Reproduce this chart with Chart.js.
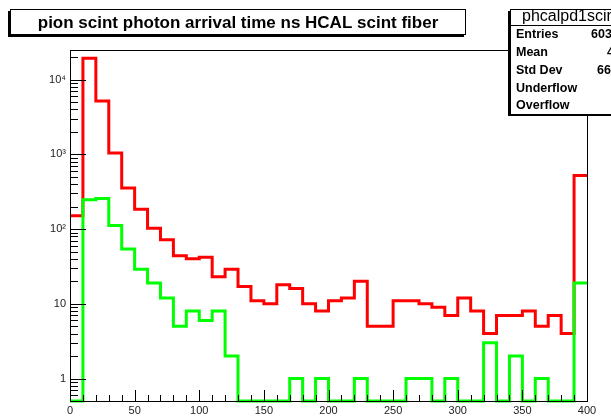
<!DOCTYPE html>
<html>
<head>
<meta charset="utf-8">
<script src="https://cdn.jsdelivr.net/npm/chart.js@4.4.0/dist/chart.umd.min.js"></script>
<style>
  html, body { margin: 0; padding: 0; background: #fff; }
  #wrap { width: 611px; height: 419px; position: relative; }
</style>
</head>
<body>
<div id="wrap"><canvas id="c" width="611" height="419"></canvas></div>
<script>
// bin lower edges (ns), width 10
const binLow = [0, 10, 20, 30, 40, 50, 60, 70, 80, 90, 100, 110, 120, 130, 140, 150, 160, 170, 180, 190,
  200, 210, 220, 230, 240, 250, 260, 270, 280, 290, 300, 310, 320, 330, 340, 350, 360, 370, 380, 390];
const binWidth = 10;

// red histogram (all photons)
const redCounts = [151, 19400, 5210, 1041, 354, 185, 103, 72, 44, 40, 42, 23, 29, 17, 11, 10, 18, 16, 10, 8,
  11, 12, 20, 5, 5, 11, 11, 10, 9, 7, 12, 8, 4, 7, 7, 8, 5, 7, 4, 523];

// green histogram
const greenCounts = [0, 247, 257, 112, 54, 29, 19, 12, 5, 8, 6, 8, 2, 0, 0, 0, 0, 1, 0, 1,
  0, 0, 1, 0, 0, 0, 1, 1, 0, 1, 0, 0, 3, 0, 2, 0, 1, 0, 0, 19];

const xTicks = [0, 50, 100, 150, 200, 250, 300, 350, 400];
const yTicks = [1, 10, 100, 1000, 10000];
const yTickLabels = ['1', '10', '10\u00b2', '10\u00b3', '10\u2074'];

const titleText = 'pion scint photon arrival time ns HCAL scint fiber';
const statsTitle = 'phcalpd1scint';
const statsNames = ['Entries', 'Mean', 'Std Dev', 'Underflow', 'Overflow'];
const statsValues = ['60394', '41.52', '66.873', '0', '0'];

const yMin = 0.5, yMax = 25000;

// histogram -> step points (zero bins sit on the bottom of the frame)
function toSteps(counts) {
  const pts = counts.map((c, i) => ({ x: binLow[i], y: c > 0 ? c : yMin }));
  pts.push({ x: binLow[binLow.length - 1] + binWidth, y: pts[pts.length - 1].y });
  return pts;
}

const FONT = '"Liberation Sans", Arial, Helvetica, sans-serif';

const rootStyle = {
  id: 'rootStyle',
  afterDatasetsDraw(chart) {
    const ctx = chart.ctx;
    const a = chart.chartArea;
    const xs = chart.scales.x, ys = chart.scales.y;
    ctx.save();
    ctx.strokeStyle = '#000';
    ctx.lineWidth = 1;
    ctx.beginPath();
    // x ticks (inside, upward)
    for (let v = 0; v <= 400; v += 10) {
      const px = Math.round(xs.getPixelForValue(v)) + 0.5;
      const len = v % 50 === 0 ? 11 : 6;
      ctx.moveTo(px, a.bottom);
      ctx.lineTo(px, a.bottom - len);
    }
    // y log ticks (inside, to the right)
    for (let d = -1; d <= 4; d++) {
      for (let m = 1; m <= 9; m++) {
        const v = m * Math.pow(10, d);
        if (v < yMin || v > yMax) continue;
        const py = Math.round(ys.getPixelForValue(v)) + 0.5;
        const len = m === 1 ? 16 : 8;
        ctx.moveTo(a.left, py);
        ctx.lineTo(a.left + len, py);
      }
    }
    ctx.stroke();
    ctx.strokeRect(Math.round(a.left) + 0.5, Math.round(a.top) + 0.5,
      Math.round(a.right - a.left), Math.round(a.bottom - a.top));
    ctx.restore();
  },
  afterDraw(chart) {
    const ctx = chart.ctx;
    ctx.save();
    // title pave with shadow
    ctx.fillStyle = '#000';
    ctx.fillRect(8, 11, 456, 26);
    ctx.fillStyle = '#fff';
    ctx.fillRect(10, 9, 456, 26);
    ctx.strokeStyle = '#000';
    ctx.lineWidth = 1;
    ctx.strokeRect(10.5, 9.5, 455, 25);
    ctx.fillStyle = '#000';
    ctx.font = 'bold 17px ' + FONT;
    ctx.textAlign = 'center';
    ctx.textBaseline = 'middle';
    ctx.fillText(titleText, 238, 23);

    // stats box (runs past the canvas edge)
    const bx = 510, by = 9, bw = 130, bh = 105;
    ctx.fillStyle = '#000';
    ctx.fillRect(bx - 2, by + 2, bw, bh);
    ctx.fillStyle = '#fff';
    ctx.fillRect(bx, by, bw, bh);
    ctx.strokeRect(bx + 0.5, by + 0.5, bw, bh);
    ctx.beginPath();
    ctx.moveTo(bx, by + 16.5);
    ctx.lineTo(bx + bw, by + 16.5);
    ctx.stroke();
    ctx.fillStyle = '#000';
    ctx.font = '16px ' + FONT;
    ctx.textAlign = 'left';
    ctx.fillText(statsTitle, 522, by + 8);
    ctx.font = 'bold 12.5px ' + FONT;
    const valX = [591, 607, 597, 640, 640];
    statsNames.forEach((n, i) => {
      const y = 35 + i * 17.7;
      ctx.fillText(n, 516, y);
      ctx.fillText(statsValues[i], valX[i], y);
    });
    ctx.restore();
  }
};

new Chart(document.getElementById('c'), {
  type: 'line',
  data: {
    datasets: [
      {
        label: 'green',
        data: toSteps(greenCounts),
        borderColor: '#00ff00',
        borderWidth: 3,
        pointRadius: 0,
        stepped: 'before',
        fill: false,
        clip: 4
      },
      {
        label: 'red',
        data: toSteps(redCounts),
        borderColor: '#ff0000',
        borderWidth: 3,
        pointRadius: 0,
        stepped: 'before',
        fill: false,
        clip: 4
      }
    ]
  },
  options: {
    responsive: false,
    animation: false,
    events: [],
    layout: { padding: { top: 50, right: 24, left: 0, bottom: 0 } },
    plugins: { legend: { display: false }, tooltip: { enabled: false }, title: { display: false } },
    scales: {
      x: {
        type: 'linear',
        min: 0,
        max: 400,
        afterFit: (s) => { s.height = 18; },
        afterBuildTicks: (s) => { s.ticks = xTicks.map(v => ({ value: v })); },
        grid: { display: false, drawTicks: false },
        border: { display: false },
        ticks: { color: '#222', padding: 3, maxRotation: 0, font: { family: FONT, size: 11 } }
      },
      y: {
        type: 'logarithmic',
        min: yMin,
        max: yMax,
        afterFit: (s) => { s.width = 70; },
        afterBuildTicks: (s) => { s.ticks = yTicks.map(v => ({ value: v })); },
        grid: { display: false, drawTicks: false },
        border: { display: false },
        ticks: {
          color: '#222',
          padding: 4,
          font: { family: FONT, size: 11 },
          callback: (v) => yTickLabels[yTicks.indexOf(v)]
        }
      }
    }
  },
  plugins: [rootStyle]
});
</script>
</body>
</html>
